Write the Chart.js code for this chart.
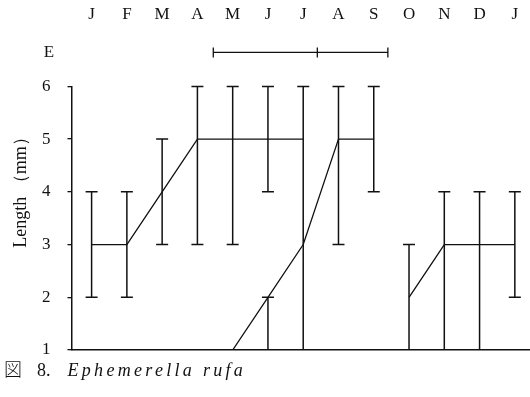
<!DOCTYPE html>
<html>
<head>
<meta charset="utf-8">
<script src="https://cdn.jsdelivr.net/npm/chart.js@4/dist/chart.umd.min.js"></script>
<style>
  body { margin: 0; background: #fff; }
  #wrap { position: relative; width: 530px; height: 397px; }
  #caption {
    position: absolute; left: 4px; top: 355px; white-space: nowrap;
    font-family: "Liberation Serif", serif; font-size: 18px; color: #111;
  }
  #caption .zu { font-family: "Noto Sans CJK JP", sans-serif; font-weight: 300; margin-right: 15px; }
  #caption .no { margin-right: 17px; }
  #caption .sp { font-style: italic; letter-spacing: 3.3px; }
</style>
</head>
<body>
<div id="wrap">
  <canvas id="c" width="530" height="397"></canvas>
  <div id="caption"><span class="zu">図</span><span class="no">8.</span><span class="sp">Ephemerella rufa</span></div>
</div>
<script>
var months = ["J", "F", "M", "A", "M", "J", "J", "A", "S", "O", "N", "D", "J"];
var yTicks = [1, 2, 3, 4, 5, 6];

// mean length per month (null = no data)
var cohort1 = [3, 3, 4, 5, 5, 5, 5, null, null, null, null, null, null];
var cohort2 = [null, null, null, null, 1, 2, 3, 5, 5, null, null, null, null];
var cohort3 = [null, null, null, null, null, null, null, null, null, 2, 3, 3, 3];

// ranges [min, max]
var range1 = [[2, 4], [2, 4], [3, 5], [3, 6], [3, 6], [4, 6], null, null, null, null, null, null, null];
var range2 = [null, null, null, null, null, [1, 2], [1, 6], [3, 6], [4, 6], null, null, null, null];
var range3 = [null, null, null, null, null, null, null, null, null, [1, 3], [1, 4], [1, 4], [2, 4]];

// emergence period E: start, mid mark, end (in month index)
var ePeriod = [3.45, 6.4, 8.4];

function pts(arr) {
  return arr.map(function (v, i) { return { x: i, y: v }; });
}

var ink = "#111";
var serif = "'Liberation Serif', serif";

var rangeBars = {
  id: "rangeBars",
  afterDatasetsDraw: function (chart) {
    var ctx = chart.ctx, x = chart.scales.x, y = chart.scales.y;
    ctx.save();
    ctx.strokeStyle = ink;
    ctx.lineWidth = 1.5;
    [range1, range2, range3].forEach(function (arr) {
      arr.forEach(function (r, i) {
        if (!r) return;
        var px = x.getPixelForValue(i);
        var lo = y.getPixelForValue(r[0]), hi = y.getPixelForValue(r[1]);
        ctx.beginPath();
        ctx.moveTo(px, lo); ctx.lineTo(px, hi);
        ctx.moveTo(px - 6, hi); ctx.lineTo(px + 6, hi);
        if (r[0] > y.min) { ctx.moveTo(px - 6, lo); ctx.lineTo(px + 6, lo); }
        ctx.stroke();
      });
    });
    // E bar
    var ey = chart.chartArea.top - 34;
    var xs = ePeriod.map(function (v) { return x.getPixelForValue(v); });
    ctx.lineWidth = 1.3;
    ctx.beginPath();
    ctx.moveTo(xs[0], ey); ctx.lineTo(xs[2], ey);
    xs.forEach(function (px) { ctx.moveTo(px, ey - 5); ctx.lineTo(px, ey + 5); });
    ctx.stroke();
    ctx.fillStyle = ink;
    ctx.font = "17px " + serif;
    ctx.textAlign = "center";
    ctx.textBaseline = "middle";
    ctx.fillText("E", 49, ey);
    // y axis title
    ctx.save();
    ctx.translate(21, 188);
    ctx.rotate(-Math.PI / 2);
    ctx.font = "18px " + serif;
    ctx.fillText("Length （mm）", 0, 0);
    ctx.restore();
    ctx.restore();
  }
};

var lineStyle = {
  borderColor: ink, borderWidth: 1.3, pointRadius: 0, fill: false, spanGaps: false, tension: 0
};

new Chart(document.getElementById("c"), {
  type: "line",
  data: {
    datasets: [
      Object.assign({ data: pts(cohort1) }, lineStyle),
      Object.assign({ data: pts(cohort2) }, lineStyle),
      Object.assign({ data: pts(cohort3) }, lineStyle)
    ]
  },
  options: {
    responsive: false,
    animation: false,
    layout: { padding: { top: 4, right: 0, bottom: 39, left: 25 } },
    plugins: { legend: { display: false }, tooltip: { enabled: false } },
    scales: {
      x: {
        type: "linear", position: "top", min: -0.57, max: 12.43,
        afterBuildTicks: function (s) { s.ticks = months.map(function (m, i) { return { value: i }; }); },
        grid: { display: true, drawOnChartArea: false, tickLength: 62, color: "rgba(0,0,0,0)" },
        border: { display: false },
        ticks: {
          padding: 0, color: ink, maxRotation: 0, autoSkip: false,
          font: { family: serif, size: 17 },
          callback: function (v) { return months[v]; }
        }
      },
      x2: {
        type: "linear", position: "bottom", min: -0.57, max: 12.43,
        grid: { display: false },
        border: { display: true, color: ink, width: 1.5 },
        ticks: { display: false }
      },
      y: {
        type: "linear", min: 1, max: 6,
        afterBuildTicks: function (s) { s.ticks = yTicks.map(function (v) { return { value: v }; }); },
        grid: { display: true, drawOnChartArea: false, tickLength: 4, color: ink, lineWidth: 1.3 },
        border: { display: true, color: ink, width: 1.5 },
        ticks: { padding: 17, color: ink, font: { family: serif, size: 17 } }
      }
    }
  },
  plugins: [rangeBars]
});
</script>
</body>
</html>
